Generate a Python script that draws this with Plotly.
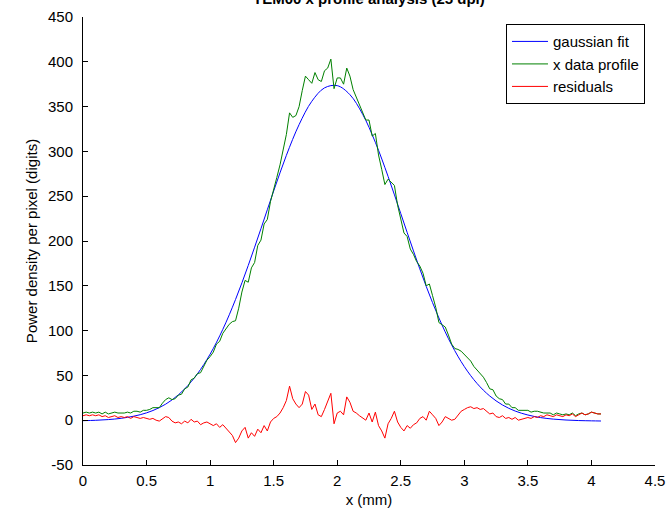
import numpy as np
import plotly.graph_objects as go

# ---- data ----
fit_x = [0.0, 0.1, 0.2, 0.3, 0.4, 0.5, 0.6, 0.7, 0.8, 0.9, 1.0, 1.1, 1.2, 1.3,
         1.4, 1.5, 1.6, 1.7, 1.8, 1.9, 2.0, 2.1, 2.2, 2.3, 2.4, 2.5, 2.6, 2.7,
         2.8, 2.9, 3.0, 3.1, 3.2, 3.3, 3.4, 3.5, 3.6, 3.7, 3.8, 3.9, 4.0, 4.075]
fit_y = [-0.5, -0.1, 0.7, 2.1, 4.5, 8.2, 14.0, 22.6, 34.9, 51.7, 73.7, 101.4,
         134.7, 172.7, 213.8, 255.8, 295.6, 329.9, 355.9, 370.9, 373.4, 363.3,
         341.5, 310.1, 272.1, 230.6, 188.9, 149.4, 114.1, 84.1, 59.8, 41.0,
         27.0, 17.0, 10.2, 5.8, 2.9, 1.2, 0.2, -0.4, -0.7, -0.9]

step = 0.025  # sampling step of the profile (mm)

profile = [8, 9, 8, 9, 8, 9, 7, 9, 7, 8, 9, 8, 8, 8, 9, 8, 10, 10, 9, 11,
           11, 12, 14, 14, 14, 19, 23, 25, 23, 24, 28, 29, 35, 37, 45, 47, 52, 53, 61, 67,
           71, 76, 85, 88, 97, 102, 107, 110, 111, 125, 143, 156, 154, 170, 176, 195, 201, 219, 224, 244,
           259, 271, 285, 301, 319, 343, 338, 340, 350, 368, 384, 380, 376, 388, 380, 378, 390, 393, 403, 370,
           382, 382, 375, 393, 384, 369, 361, 353, 345, 335, 335, 317, 320, 296, 280, 263, 269, 265, 262, 240,
           224, 209, 205, 191, 185, 177, 172, 164, 150, 152, 139, 126, 109, 106, 104, 95, 85, 80, 79, 77,
           73, 70, 66, 60, 56, 51, 48, 42, 35, 34, 27, 24, 23, 18, 18, 14, 14, 11, 11, 11,
           11, 9, 10, 10, 9, 8, 8, 8, 6, 8, 7, 6, 7, 6, 8, 5, 7, 8, 6, 7,
           9, 8, 7, 7]

residuals = [5, 6, 5, 6, 5, 6, 4, 5, 3, 4, 5, 3, 4, 3, 4, 2, 4, 3, 2, 3,
             2, 1, 2, 0, -1, 2, 4, 3, -1, -3, -2, -4, -1, -3, 1, -2, -1, -5, -3, -2,
             -4, -6, -4, -8, -5, -9, -12, -17, -25, -20, -12, -8, -20, -14, -18, -10, -14, -6, -12, -2,
             2, 4, 8, 14, 22, 38, 24, 18, 14, 18, 32, 28, 12, 18, 6, 4, 12, 20, 30, -4,
             8, 10, 6, 26, 20, 10, 8, 5, 2, 0, 8, -2, 9, -6, -12, -20, -4, 2, 10, -2,
             -8, -12, -6, -9, -5, -3, 2, 4, 0, 10, 6, 2, -6, -2, 4, 2, 0, 1, 6, 10,
             12, 14, 15, 13, 14, 12, 13, 10, 7, 8, 4, 3, 5, 2, 3, 1, 3, 0, 1, 2,
             3, 2, 4, 3, 5, 4, 6, 5, 4, 6, 5, 4, 6, 5, 7, 4, 6, 8, 6, 7,
             9, 8, 7, 7]

x_ticks = [0, 0.5, 1, 1.5, 2, 2.5, 3, 3.5, 4, 4.5]
x_labels = ["0", "0.5", "1", "1.5", "2", "2.5", "3", "3.5", "4", "4.5"]
y_ticks = [-50, 0, 50, 100, 150, 200, 250, 300, 350, 400, 450]
y_labels = ["-50", "0", "50", "100", "150", "200", "250", "300", "350", "400", "450"]

prof_x = np.round(np.arange(len(profile)) * step, 4)
res_x = np.round(np.arange(len(residuals)) * step, 4)

FONT = "Liberation Sans, Arial, sans-serif"

fig = go.Figure()
fig.add_trace(go.Scatter(x=fit_x, y=fit_y, mode="lines", name="gaussian fit",
                         line=dict(color="#0000FF", width=1, shape="spline")))
fig.add_trace(go.Scatter(x=prof_x, y=profile, mode="lines", name="x data profile",
                         line=dict(color="#008000", width=1)))
fig.add_trace(go.Scatter(x=res_x, y=residuals, mode="lines", name="residuals",
                         line=dict(color="#FF0000", width=1)))

axis_common = dict(showline=True, linecolor="black", linewidth=1, ticks="inside",
                   ticklen=5, tickcolor="black", showgrid=False, zeroline=False,
                   mirror=False, automargin=False,
                   tickfont=dict(family=FONT, size=15, color="black"))

fig.update_layout(
    width=667, height=513,
    margin=dict(l=83, r=12, t=17, b=48),
    paper_bgcolor="white", plot_bgcolor="white",
    font=dict(family=FONT, size=15, color="black"),
    xaxis=dict(range=[0, 4.5], tickvals=x_ticks, ticktext=x_labels,
               ticklabelstandoff=2,
               title=dict(text="x (mm)", font=dict(family=FONT, size=15), standoff=6),
               **axis_common),
    yaxis=dict(range=[-50, 450], tickvals=y_ticks, ticktext=y_labels,
               ticklabelstandoff=6,
               title=dict(text="Power density per pixel (digits)", font=dict(family=FONT, size=15), standoff=6),
               **axis_common),
    legend=dict(x=0.9825, y=0.984, xanchor="right", yanchor="top",
                bgcolor="white", bordercolor="black", borderwidth=1,
                itemwidth=36, font=dict(family=FONT, size=15), tracegroupgap=0),
    showlegend=True,
    annotations=[dict(text="<b>TEM00 x profile analysis (25 dpi)</b>", xref="paper", yref="paper",
                      x=0.5, y=1.0179, xanchor="center", yanchor="bottom", showarrow=False,
                      font=dict(family=FONT, size=15, color="black"))],
)

fig.write_html("out.html", config={"displayModeBar": False},
               post_script="document.body.style.margin='0';")
